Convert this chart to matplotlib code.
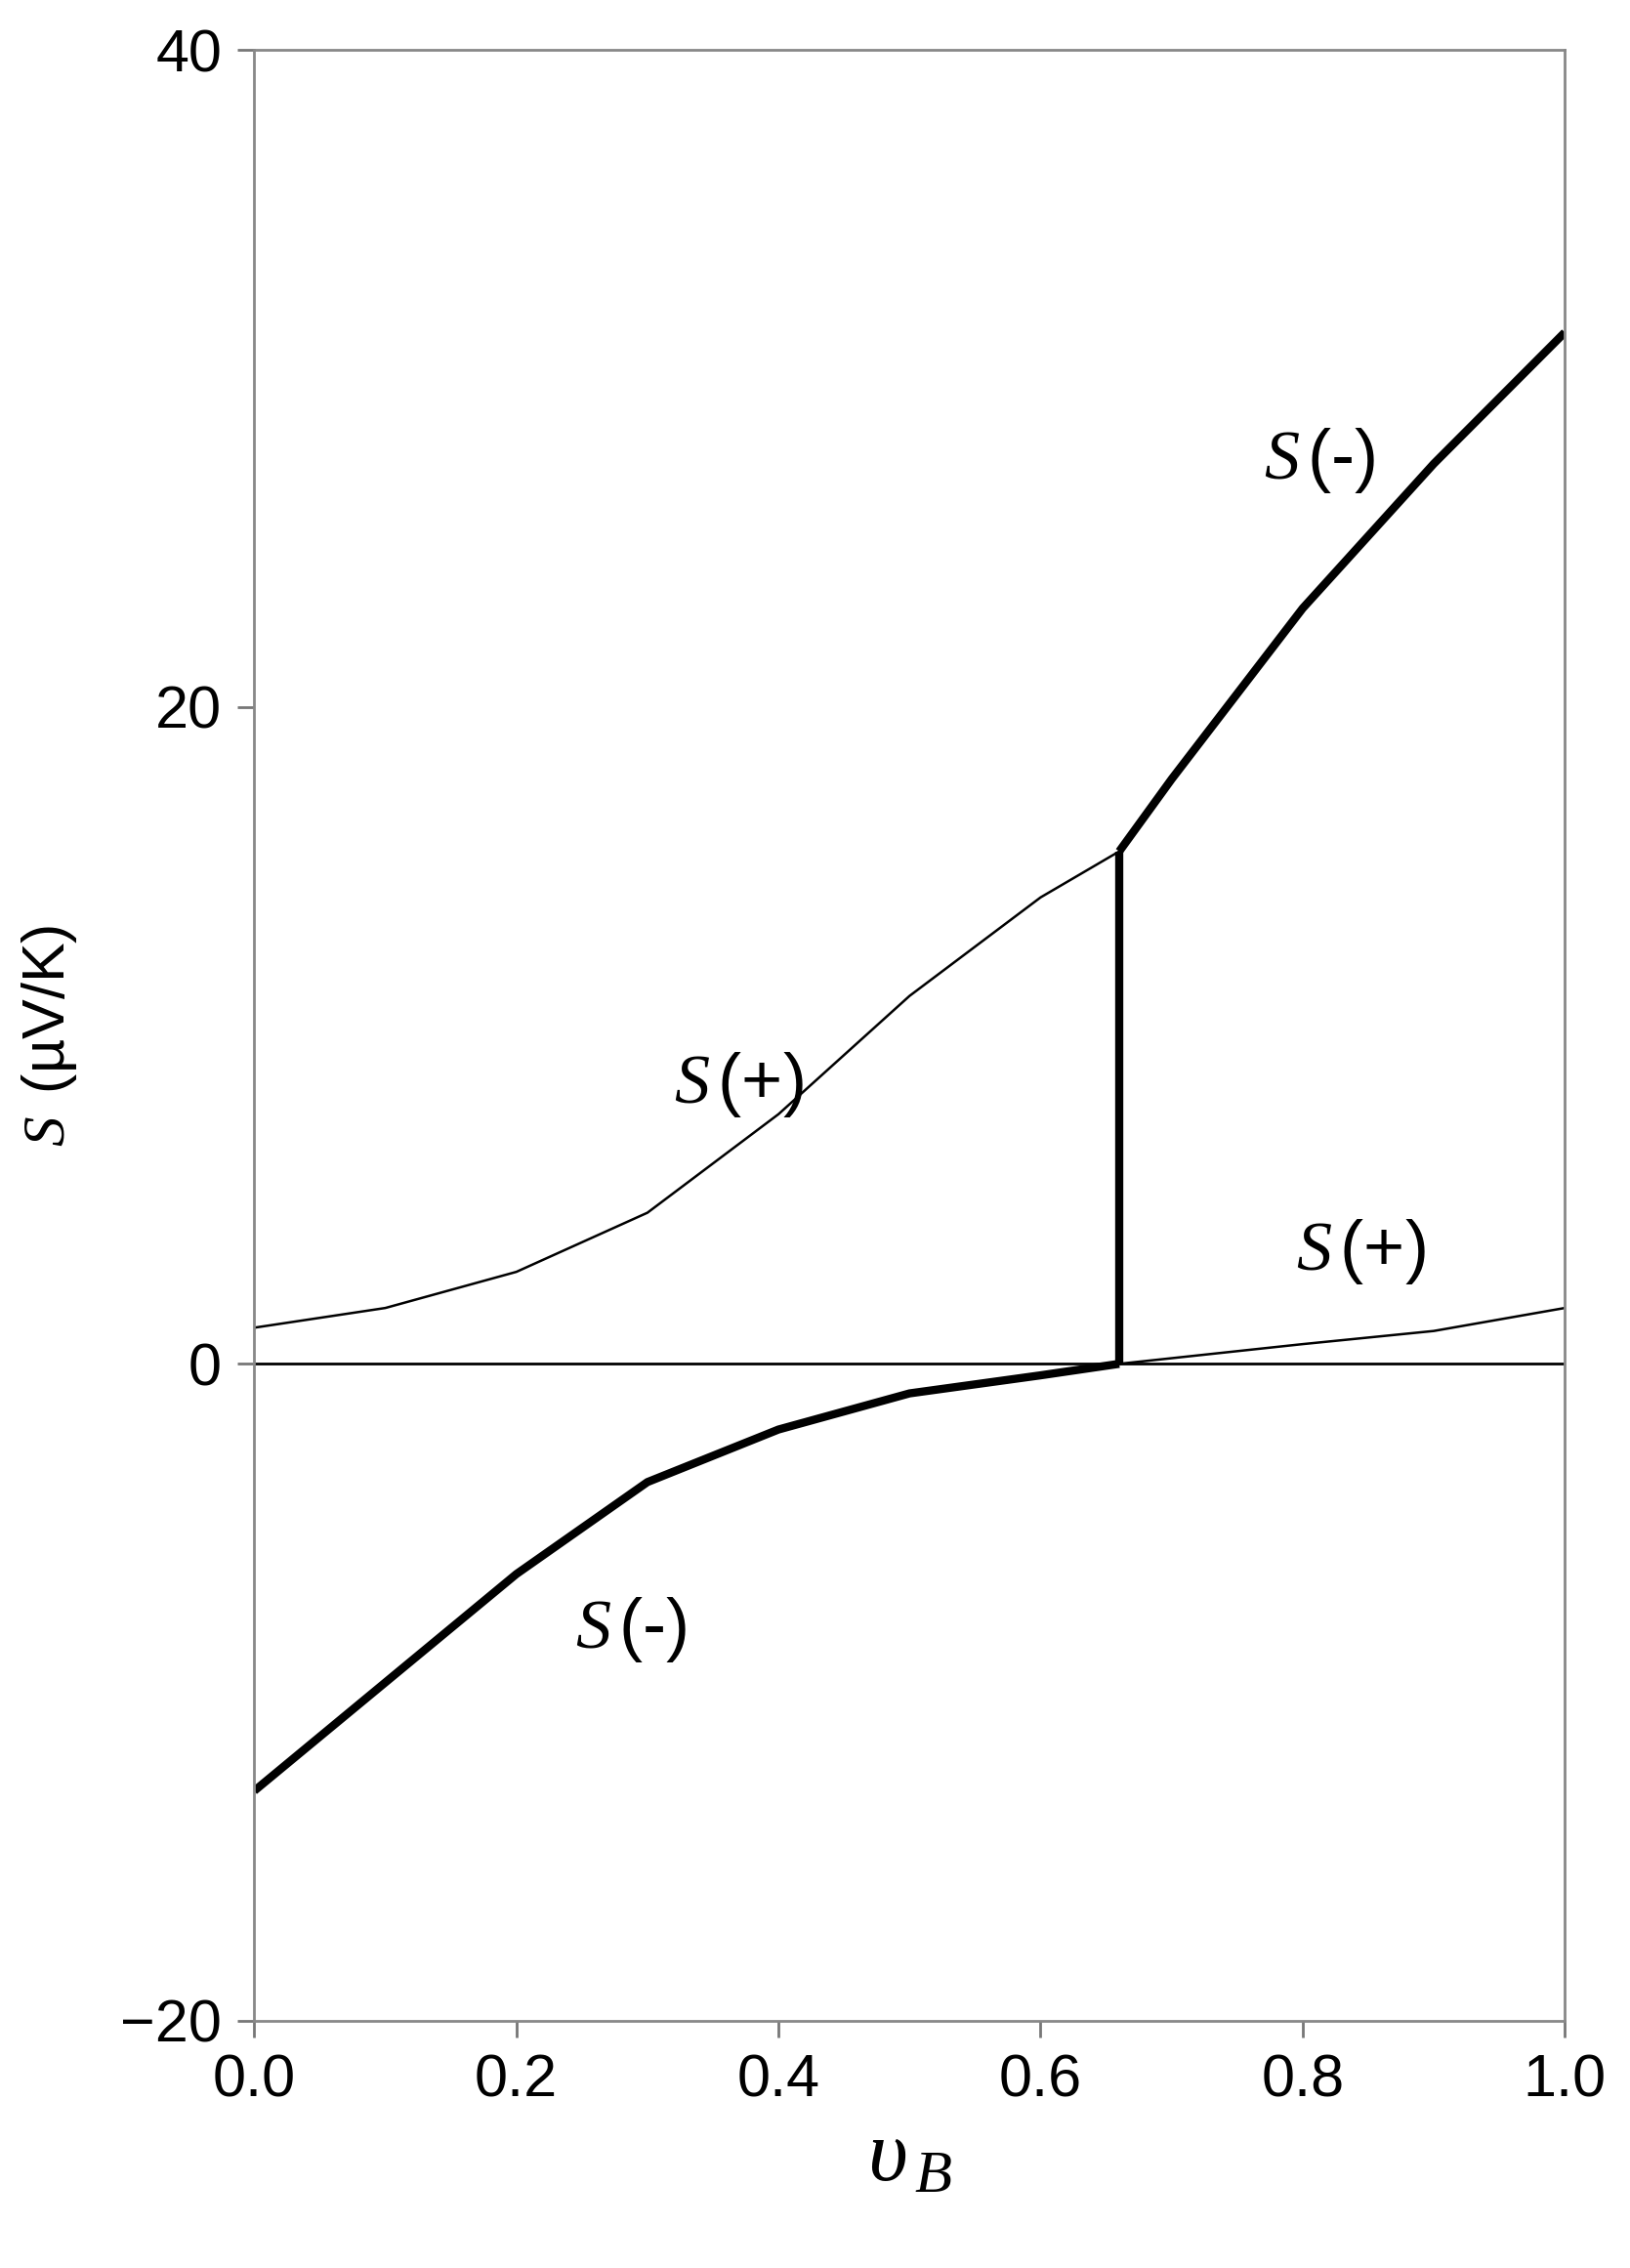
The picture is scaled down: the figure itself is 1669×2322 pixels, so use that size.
import matplotlib
matplotlib.use("Agg")
import matplotlib.pyplot as plt

plt.rcParams['font.family'] = ['Liberation Sans', 'DejaVu Sans']
plt.rcParams['mathtext.fontset'] = 'custom'
plt.rcParams['mathtext.it'] = 'Liberation Serif:italic'
plt.rcParams['mathtext.rm'] = 'Liberation Sans'

# upper thin S(+) branch
xp_up = [0.0, 0.1, 0.2, 0.3, 0.4, 0.5, 0.6, 0.66]
yp_up = [1.1, 1.7, 2.8, 4.6, 7.6, 11.2, 14.2, 15.6]
# upper thick S(-) branch
xm_up = [0.66, 0.7, 0.8, 0.9, 1.0]
ym_up = [15.6, 17.8, 23.0, 27.4, 31.4]
# lower thick S(-) branch
xm_lo = [0.0, 0.1, 0.2, 0.3, 0.4, 0.5, 0.6, 0.66]
ym_lo = [-13.0, -9.7, -6.4, -3.6, -2.0, -0.9, -0.35, 0.0]
# lower thin S(+) branch
xp_lo = [0.66, 0.8, 0.9, 1.0]
yp_lo = [0.0, 0.6, 1.0, 1.7]
# jump
x_jump = 0.66
y_jump = [0.0, 15.6]

fig = plt.figure(figsize=(16.69, 23.22), dpi=100)
ax = fig.add_axes([0.156, 0.109, 0.804, 0.869])

ax.axhline(0, color='black', lw=2)
ax.plot(xp_up, yp_up, color='black', lw=1.8)
ax.plot(xp_lo, yp_lo, color='black', lw=1.8)
ax.plot(xm_up, ym_up, color='black', lw=6, solid_capstyle='butt')
ax.plot(xm_lo, ym_lo, color='black', lw=6, solid_capstyle='butt')
ax.plot([x_jump, x_jump], y_jump, color='black', lw=6, solid_capstyle='butt')

fs = 52
ax.text(0.32, 8.5, r'$S\,$(+)', fontsize=fs, ha='left', va='center')
ax.text(0.77, 27.5, r'$S\,$(-)', fontsize=fs, ha='left', va='center')
ax.text(0.795, 3.4, r'$S\,$(+)', fontsize=fs, ha='left', va='center')
ax.text(0.245, -8.1, r'$S\,$(-)', fontsize=fs, ha='left', va='center')

ax.set_xlim(0, 1)
ax.set_ylim(-20, 40)
ax.set_xticks([0, 0.2, 0.4, 0.6, 0.8, 1.0])
ax.set_xticklabels(['0.0', '0.2', '0.4', '0.6', '0.8', '1.0'])
ax.set_yticks([-20, 0, 20, 40])
ax.tick_params(labelsize=44, direction='out', length=12, width=2, color='#777777', pad=12)
for s in ax.spines.values():
    s.set_color('#888888'); s.set_linewidth(2)

ax.set_ylabel(r'$S\,$ (µV/K)', fontsize=44, labelpad=30)
ax.set_xlabel(r'$\upsilon_{\,B}$', fontsize=64, labelpad=6)

fig.savefig('out.png', dpi=100, facecolor='white')
